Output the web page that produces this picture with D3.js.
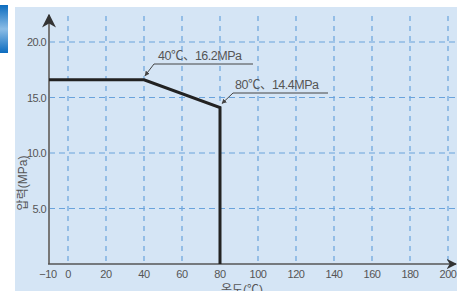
<!DOCTYPE html>
<html lang="ko">
<head>
<meta charset="UTF-8">
<title>압력-온도</title>
<script src="https://d3js.org/d3.v7.min.js"></script>
<style>
  body { margin: 0; background: #fff; }
  svg text { font-family: "Liberation Sans", "Noto Sans CJK KR", sans-serif; fill: #555; }
</style>
</head>
<body>
<svg id="chart" width="457" height="291"></svg>
<script>
// data
var curveTemp = [-10, 40, 80, 80];
var curvePress = [16.6, 16.6, 14.1, 0];
var xTicks = [0, 20, 40, 60, 80, 100, 120, 140, 160, 180, 200];
var yTicks = [5, 10, 15, 20];
var notes = ["40℃、16.2MPa", "80℃、14.4MPa"];

var svg = d3.select("#chart");

// left blue tab
var grad = svg.append("defs").append("linearGradient")
  .attr("id", "tab").attr("x1", 0).attr("y1", 0).attr("x2", 0).attr("y2", 1);
grad.append("stop").attr("offset", "0%").attr("stop-color", "#0c6cbf");
grad.append("stop").attr("offset", "50%").attr("stop-color", "#8cbde6");
grad.append("stop").attr("offset", "100%").attr("stop-color", "#0c6cbf");
svg.append("rect").attr("x", 0).attr("y", 5).attr("width", 8).attr("height", 48)
  .attr("fill", "url(#tab)");

// panel
svg.append("rect").attr("x", 15).attr("y", 7).attr("width", 442).attr("height", 284)
  .attr("fill", "#d5e5f5");

var x = d3.scaleLinear().domain([-10, 200]).range([49, 448]);
var y = d3.scaleLinear().domain([0, 20]).range([264, 42]);

// grid
svg.append("g").selectAll("line").data(xTicks).enter().append("line")
  .attr("x1", d => x(d)).attr("x2", d => x(d))
  .attr("y1", 16).attr("y2", 264)
  .attr("stroke", "#6aa3dc").attr("stroke-width", 1.2).attr("stroke-dasharray", "5,5");
svg.append("g").selectAll("line").data(yTicks).enter().append("line")
  .attr("x1", 49).attr("x2", 457)
  .attr("y1", d => y(d)).attr("y2", d => y(d))
  .attr("stroke", "#6aa3dc").attr("stroke-width", 1.2).attr("stroke-dasharray", "6,4");

// axes
var mk = svg.select("defs").append("marker")
  .attr("id", "ah").attr("viewBox", "0 0 10 10").attr("refX", 9).attr("refY", 5)
  .attr("markerWidth", 7).attr("markerHeight", 7).attr("orient", "auto");
mk.append("path").attr("d", "M0,0L10,5L0,10L3,5Z").attr("fill", "#333");
var mk2 = svg.select("defs").append("marker")
  .attr("id", "ah2").attr("viewBox", "0 0 10 10").attr("refX", 9).attr("refY", 5)
  .attr("markerWidth", 5).attr("markerHeight", 5).attr("orient", "auto");
mk2.append("path").attr("d", "M0,0L10,5L0,10Z").attr("fill", "#444");

svg.append("line").attr("x1", 49).attr("x2", 49).attr("y1", 264).attr("y2", 15)
  .attr("stroke", "#777").attr("stroke-width", 2).attr("marker-end", "url(#ah)");
svg.append("line").attr("x1", 48).attr("x2", 456).attr("y1", 264).attr("y2", 264)
  .attr("stroke", "#555").attr("stroke-width", 1.5).attr("marker-end", "url(#ah)");

// tick labels
svg.append("g").selectAll("text").data(yTicks).enter().append("text")
  .attr("x", 46).attr("y", d => y(d) + 4)
  .attr("text-anchor", "end").attr("font-size", 11).attr("letter-spacing", -0.6)
  .text(d => d.toFixed(1));
svg.append("g").selectAll("text").data([-10].concat(xTicks)).enter().append("text")
  .attr("x", d => d === -10 ? x(d) - 1 : x(d)).attr("y", 278)
  .attr("text-anchor", "middle").attr("font-size", 11).attr("letter-spacing", -0.4)
  .text(d => d < 0 ? "\u2212" + Math.abs(d) : d);

// axis titles
svg.append("text").attr("x", 242).attr("y", 294).attr("text-anchor", "middle")
  .attr("font-size", 12).text("온도(℃)");
svg.append("text").attr("transform", "translate(27,183) rotate(-90)")
  .attr("text-anchor", "middle").attr("font-size", 12).text("압력(MPa)");

// curve
var pts = curveTemp.map((t, i) => [x(t), y(curvePress[i])]);
svg.append("path").attr("d", d3.line()(pts))
  .attr("fill", "none").attr("stroke", "#222").attr("stroke-width", 3);

// annotations
var ann = [
  { text: notes[0], tx: 158, ty: 60, ux1: 154, ux2: 253, uy: 64, px: x(40) + 1, py: y(16.6) - 4 },
  { text: notes[1], tx: 235, ty: 89, ux1: 233, ux2: 328, uy: 93, px: x(80) + 2, py: y(14.1) - 4 }
];
ann.forEach(function(a) {
  svg.append("text").attr("x", a.tx).attr("y", a.ty).attr("font-size", 12.5)
    .attr("letter-spacing", -0.5).text(a.text);
  svg.append("line").attr("x1", a.ux1).attr("x2", a.ux2).attr("y1", a.uy).attr("y2", a.uy)
    .attr("stroke", "#444").attr("stroke-width", 1);
  svg.append("line").attr("x1", a.ux1).attr("y1", a.uy).attr("x2", a.px).attr("y2", a.py)
    .attr("stroke", "#444").attr("stroke-width", 1).attr("marker-end", "url(#ah2)");
});
</script>
</body>
</html>
